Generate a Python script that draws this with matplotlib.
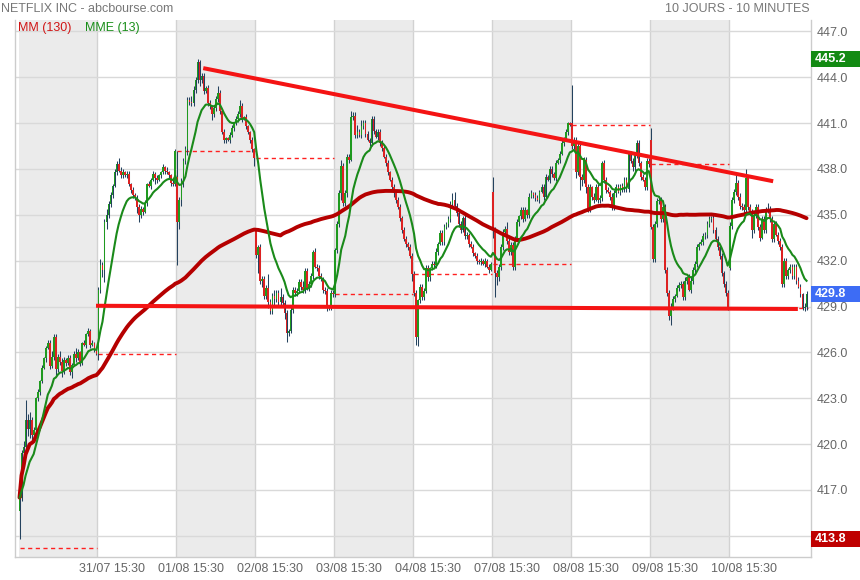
import numpy as np
import pandas as pd
import matplotlib
matplotlib.use("Agg")
import matplotlib.pyplot as plt
from matplotlib.patches import Rectangle
from matplotlib.transforms import blended_transform_factory

plt.rcParams['font.family'] = ['Liberation Sans', 'DejaVu Sans']

# ---------------- data ----------------
title_left = "NETFLIX INC - abcbourse.com"
title_right = "10 JOURS - 10 MINUTES"
legend_mm = "MM (130)"
legend_mme = "MME (13)"
date_labels = ["31/07 15:30", "01/08 15:30", "02/08 15:30", "03/08 15:30", "04/08 15:30",
               "07/08 15:30", "08/08 15:30", "09/08 15:30", "10/08 15:30"]
y_ticks = [414.0, 417.0, 420.0, 423.0, 426.0, 429.0, 432.0, 435.0, 438.0, 441.0, 444.0, 447.0]

CANDLES_PER_DAY = 39

# closes of each 10-minute candle, one list per trading day
c0 = [416.5, 419.4, 419.8, 421.6, 421.0, 421.6, 420.6, 420.9, 423.0, 423.4, 424.1, 425.0, 425.6, 426.3, 426.6, 425.1, 425.7, 427.0, 424.9, 425.7,
      425.4, 424.8, 425.5, 425.3, 425.6, 424.7, 425.2, 425.9, 425.6, 426.0, 425.3, 426.6, 426.5, 427.2, 427.4, 426.5, 426.6, 426.2, 425.9]
c1 = [430.1, 431.7, 431.4, 434.5, 435.0, 435.7, 436.3, 436.9, 437.8, 438.3, 437.9, 437.6, 437.8, 437.6, 437.7, 437.0, 436.6, 436.3, 436.1, 435.5,
      435.0, 435.4, 435.2, 435.8, 437.0, 436.9, 437.3, 437.7, 437.4, 437.3, 437.6, 437.8, 438.1, 437.9, 437.8, 437.6, 437.1, 437.0, 439.2]
c2 = [434.5, 436.0, 437.2, 438.5, 439.3, 442.5, 442.4, 442.3, 443.2, 443.8, 445.0, 443.8, 444.1, 443.1, 443.3, 442.3, 442.1, 441.6, 442.0, 442.6,
      443.0, 441.8, 440.4, 439.9, 440.0, 439.9, 440.2, 440.7, 441.0, 441.3, 441.6, 442.1, 441.3, 441.4, 440.8, 440.4, 439.9, 439.3, 438.7]
c3 = [432.4, 432.9, 430.7, 430.8, 429.7, 430.2, 429.3, 428.7, 429.7, 429.5, 429.9, 429.3, 429.6, 429.2, 428.6, 427.3, 427.4, 428.8, 430.1, 429.9,
      430.0, 430.6, 430.3, 430.1, 431.3, 430.2, 430.5, 431.0, 432.6, 431.6, 431.5, 431.0, 430.8, 430.1, 430.0, 428.9, 429.0, 429.9, 429.8]
c4 = [432.7, 434.4, 436.4, 438.2, 435.8, 436.4, 438.8, 438.6, 441.4, 441.5, 440.2, 440.4, 440.2, 440.8, 441.0, 440.3, 439.9, 439.7, 441.3, 440.5,
      440.1, 440.4, 439.7, 439.4, 438.8, 438.4, 437.8, 437.3, 436.8, 436.4, 436.0, 435.5, 434.8, 434.0, 433.4, 433.1, 432.9, 432.3, 431.1]
c5 = [429.9, 427.0, 429.4, 430.3, 429.6, 430.0, 431.5, 430.9, 431.5, 431.8, 431.7, 432.6, 433.1, 433.8, 433.2, 434.2, 434.4, 434.7, 435.7, 436.0,
      435.6, 435.1, 434.4, 434.0, 434.8, 433.6, 433.7, 433.1, 432.9, 432.5, 432.3, 432.0, 431.9, 432.0, 431.8, 432.0, 431.6, 431.4, 431.8]
c6 = [434.0, 431.2, 430.9, 431.6, 432.9, 433.9, 434.1, 433.3, 432.6, 433.0, 431.6, 433.4, 434.5, 434.9, 435.3, 434.7, 435.3, 435.0, 436.2, 436.4,
      436.3, 436.1, 436.0, 436.5, 436.8, 436.2, 437.5, 437.3, 438.0, 437.7, 437.4, 438.4, 438.6, 439.0, 439.7, 440.0, 440.4, 441.0, 440.9]
c7 = [439.5, 439.9, 437.8, 439.5, 437.5, 437.3, 438.6, 436.8, 435.4, 436.8, 436.2, 436.0, 436.8, 436.0, 436.1, 438.4, 437.3, 436.6, 436.5, 436.2,
      435.5, 436.4, 436.8, 436.5, 436.9, 436.7, 437.3, 436.7, 439.0, 438.5, 438.1, 438.9, 439.7, 438.4, 437.5, 437.3, 436.8, 438.5, 438.3]
c8 = [434.2, 432.1, 434.4, 435.9, 436.0, 434.7, 435.5, 431.4, 429.9, 428.4, 429.0, 429.5, 429.7, 430.2, 430.4, 430.5, 429.6, 430.7, 430.9, 430.1,
      430.7, 431.4, 431.8, 432.9, 433.1, 433.2, 433.6, 433.7, 434.4, 434.7, 434.8, 434.0, 433.4, 432.9, 432.3, 431.2, 430.5, 429.9, 428.9]
c9 = [434.3, 436.0, 436.5, 437.1, 436.2, 435.6, 435.5, 435.3, 437.4, 435.5, 435.2, 434.0, 435.0, 435.5, 434.2, 433.5, 434.7, 434.0, 435.3, 435.4,
      434.7, 433.4, 434.4, 433.7, 433.3, 432.9, 430.5, 432.0, 431.0, 431.4, 431.6, 431.0, 431.6, 430.7, 430.3, 429.8, 428.9, 429.0, 429.8]

# opening price of the first candle of each day
day_opens = [415.6, 425.9, 437.5, 434.0, 429.8, 431.1, 436.5, 441.0, 439.9, 431.5]
# close of the day before the first day shown
first_prev_close = 413.2

# wick lengths above / below the candle body
up0 = [0.5, 0.2, 0.4, 1.3, 0.4, 0.5, 0.2, 0.2, 0.1, 0.2, 0.1, 0.2, 0.1, 0.1, 0.2, 0.2, 0.4, 0.2, 0.2, 0.2,
       0.4, 0.2, 0.2, 0.1, 0.2, 0.2, 0.1, 0.2, 0.4, 0.2, 0.1, 0.1, 0.2, 0.1, 0.2, 0.1, 0.2, 0.1, 0.1]
dn0 = [1.8, 0.2, 0.8, 0.4, 0.5, 0.6, 0.4, 0.2, 0.1, 0.2, 0.2, 0.1, 0.1, 0.2, 0.1, 0.2, 0.1, 0.2, 0.4, 0.2,
       0.2, 0.4, 0.2, 0.2, 0.1, 0.2, 0.4, 0.1, 0.2, 0.1, 0.2, 0.1, 0.1, 0.2, 0.1, 0.2, 0.1, 0.2, 0.1]
up1 = [0.2, 0.4, 0.2, 0.2, 0.4, 0.2, 0.2, 0.1, 0.2, 0.2, 0.4, 0.2, 0.2, 0.1, 0.2, 0.2, 0.1, 0.2, 0.1, 0.2,
       0.2, 0.2, 0.1, 0.2, 0.1, 0.2, 0.1, 0.2, 0.1, 0.2, 0.1, 0.1, 0.2, 0.1, 0.2, 0.1, 0.1, 0.2, 0.1]
dn1 = [0.4, 0.2, 0.5, 0.8, 0.4, 0.2, 0.2, 0.2, 0.1, 0.2, 0.1, 0.2, 0.2, 0.1, 0.2, 0.1, 0.2, 0.2, 0.1, 0.4,
       0.5, 0.2, 0.2, 0.1, 0.2, 0.1, 0.2, 0.1, 0.4, 0.2, 0.1, 0.2, 0.1, 0.2, 0.1, 0.2, 0.2, 0.1, 0.1]
up2 = [1.7, 0.2, 0.2, 0.2, 0.2, 0.2, 0.2, 0.4, 0.2, 0.2, 0.2, 0.1, 0.2, 0.2, 0.1, 0.2, 0.2, 0.1, 0.2, 0.2,
       0.4, 0.2, 0.1, 0.2, 0.1, 0.1, 0.2, 0.2, 0.1, 0.2, 0.2, 0.4, 0.2, 0.1, 0.2, 0.1, 0.1, 0.2, 0.1]
dn2 = [2.8, 0.4, 0.4, 0.4, 0.2, 0.4, 0.2, 0.2, 0.2, 0.2, 0.2, 0.4, 0.2, 0.2, 0.1, 0.2, 0.2, 0.4, 0.2, 0.2,
       0.2, 0.2, 0.1, 0.2, 0.2, 0.1, 0.2, 0.1, 0.2, 0.1, 0.2, 0.2, 0.2, 0.1, 0.2, 0.1, 0.2, 0.2, 0.5]
up3 = [0.1, 0.1, 0.2, 0.2, 0.2, 0.2, 0.9, 0.2, 0.2, 0.4, 0.2, 0.2, 0.6, 0.2, 0.2, 0.2, 0.1, 0.2, 0.2, 0.2,
       0.2, 0.2, 0.2, 0.4, 0.2, 0.2, 0.2, 0.2, 0.1, 0.2, 0.2, 0.2, 0.2, 0.1, 0.2, 0.2, 0.1, 0.2, 0.2]
dn3 = [0.2, 1.2, 0.2, 0.4, 0.2, 0.2, 0.4, 0.2, 0.2, 0.4, 0.2, 0.2, 0.2, 0.2, 0.4, 0.6, 0.2, 0.1, 0.2, 0.2,
       0.2, 0.1, 0.2, 0.2, 0.2, 0.1, 0.2, 0.2, 0.2, 0.1, 0.2, 0.2, 0.1, 0.2, 0.2, 0.2, 0.1, 0.2, 0.2]
up4 = [0.1, 0.2, 0.2, 0.4, 0.2, 0.2, 0.2, 0.2, 0.4, 0.2, 0.2, 0.5, 0.2, 0.4, 0.2, 0.2, 0.2, 0.1, 0.2, 0.2,
       0.1, 0.2, 0.2, 0.2, 0.1, 0.2, 0.2, 0.1, 0.2, 0.2, 0.1, 0.2, 0.2, 0.1, 0.2, 0.2, 0.1, 0.2, 0.2]
dn4 = [0.2, 0.2, 0.2, 0.4, 0.2, 0.2, 0.2, 0.2, 0.1, 0.2, 0.2, 0.2, 0.1, 0.2, 0.2, 0.2, 0.1, 0.2, 0.2, 0.2,
       0.1, 0.2, 0.2, 0.2, 0.1, 0.2, 0.2, 0.1, 0.2, 0.2, 0.2, 0.1, 0.2, 0.2, 0.1, 0.2, 0.2, 0.1, 0.4]
up5 = [0.2, 0.2, 0.1, 0.2, 0.2, 0.2, 0.2, 0.2, 0.1, 0.2, 0.2, 0.2, 0.1, 0.2, 0.2, 0.2, 0.1, 0.2, 0.2, 0.4,
       0.5, 0.2, 0.2, 0.2, 0.1, 0.2, 0.2, 0.1, 0.2, 0.2, 0.1, 0.2, 0.1, 0.2, 0.1, 0.2, 0.1, 0.2, 0.1]
dn5 = [0.2, 0.5, 0.6, 0.2, 0.2, 0.2, 0.1, 0.2, 0.2, 0.1, 0.2, 0.2, 0.2, 0.1, 0.2, 0.2, 0.1, 0.2, 0.2, 0.1,
       0.2, 0.2, 0.2, 0.2, 0.1, 0.2, 0.2, 0.2, 0.1, 0.2, 0.1, 0.2, 0.1, 0.2, 0.1, 0.2, 0.1, 0.2, 0.1]
up6 = [1.0, 0.2, 0.2, 0.2, 0.2, 0.2, 0.2, 0.4, 0.2, 0.2, 0.2, 0.2, 0.2, 0.1, 0.2, 0.2, 0.2, 0.1, 0.2, 0.2,
       0.1, 0.2, 0.2, 0.1, 0.2, 0.2, 0.2, 0.1, 0.2, 0.2, 0.1, 0.2, 0.1, 0.2, 0.2, 0.1, 0.2, 0.1, 0.1]
dn6 = [0.5, 1.6, 0.5, 0.2, 0.2, 0.2, 0.2, 0.2, 0.2, 0.2, 0.2, 0.2, 0.1, 0.2, 0.2, 0.2, 0.1, 0.2, 0.2, 0.1,
       0.2, 0.2, 0.1, 0.2, 0.1, 0.2, 0.2, 0.1, 0.2, 0.2, 0.1, 0.2, 0.1, 0.2, 0.1, 0.2, 0.1, 0.2, 0.1]
up7 = [2.5, 0.2, 0.2, 0.2, 0.2, 0.2, 0.2, 0.2, 0.2, 0.2, 0.1, 0.2, 0.2, 0.2, 0.2, 0.1, 0.2, 0.2, 0.2, 0.1,
       0.2, 0.2, 0.2, 0.2, 0.1, 0.2, 0.2, 0.2, 0.1, 0.2, 0.2, 0.2, 0.2, 0.2, 0.1, 0.2, 0.2, 0.2, 0.2]
dn7 = [0.2, 0.2, 0.4, 0.2, 0.9, 0.4, 0.2, 0.4, 0.2, 0.2, 0.2, 0.2, 0.1, 0.2, 0.2, 0.2, 0.2, 0.2, 0.1, 0.2,
       0.2, 0.2, 0.2, 0.1, 0.2, 0.2, 0.2, 0.2, 0.2, 0.1, 0.2, 0.2, 0.2, 0.2, 0.2, 0.1, 0.2, 0.2, 0.2]
up8 = [0.8, 0.2, 0.2, 0.2, 0.2, 0.2, 0.2, 0.2, 0.2, 0.2, 0.2, 0.2, 0.1, 0.2, 0.2, 0.2, 0.2, 0.2, 0.1, 0.2,
       0.2, 0.2, 0.2, 0.2, 0.1, 0.2, 0.2, 0.2, 0.2, 0.2, 0.1, 0.2, 0.2, 0.2, 0.2, 0.2, 0.1, 0.2, 0.2]
dn8 = [0.1, 0.2, 0.2, 0.2, 0.2, 0.2, 0.2, 0.2, 0.2, 0.3, 0.6, 0.2, 0.2, 0.1, 0.2, 0.2, 0.2, 0.2, 0.2, 0.1,
       0.2, 0.2, 0.2, 0.2, 0.2, 0.1, 0.2, 0.2, 0.2, 0.2, 0.2, 0.2, 0.1, 0.2, 0.2, 0.2, 0.2, 0.2, 0.1]
up9 = [0.2, 0.2, 0.2, 0.5, 0.2, 0.2, 0.2, 0.2, 0.6, 0.2, 0.2, 0.2, 0.1, 0.2, 0.2, 0.2, 0.2, 0.2, 0.2, 0.4,
       0.2, 0.2, 0.1, 0.2, 0.2, 0.2, 0.2, 0.2, 0.2, 0.1, 0.2, 0.2, 0.2, 0.2, 0.2, 0.2, 0.1, 0.2, 0.2]
dn9 = [0.1, 0.2, 0.2, 0.2, 0.2, 0.2, 0.2, 0.2, 0.2, 0.2, 0.2, 0.5, 0.2, 0.2, 0.2, 0.2, 0.1, 0.2, 0.2, 0.2,
       0.2, 0.2, 0.2, 0.1, 0.2, 0.2, 0.2, 0.2, 0.2, 0.2, 0.2, 0.2, 0.2, 0.2, 0.1, 0.2, 0.1, 0.2, 0.2]

# hand-drawn trend lines: (candle index, price) end points
resistance_x = [91.3, 373.0]
resistance_y = [444.6, 437.2]
support_x = [38.3, 385.2]
support_y = [429.05, 428.84]

# ---------------- build series ----------------
closes = np.array(c0 + c1 + c2 + c3 + c4 + c5 + c6 + c7 + c8 + c9)
wick_up = np.array(up0 + up1 + up2 + up3 + up4 + up5 + up6 + up7 + up8 + up9)
wick_dn = np.array(dn0 + dn1 + dn2 + dn3 + dn4 + dn5 + dn6 + dn7 + dn8 + dn9)
n = len(closes)
n_days = len(day_opens)
opens = np.empty(n)
opens[1:] = closes[:-1]
for d, o in enumerate(day_opens):
    opens[d * CANDLES_PER_DAY] = o
highs = np.maximum(opens, closes) + wick_up
lows = np.minimum(opens, closes) - wick_dn
xs = np.arange(n) + 0.5

s = pd.Series(closes)
mm130 = s.rolling(130, min_periods=1).mean().values
mme13 = s.ewm(span=13, adjust=False).mean().values

prev_closes = [first_prev_close] + [closes[(d + 1) * CANDLES_PER_DAY - 1] for d in range(n_days - 1)]

# ---------------- colours ----------------
GREEN = '#1f9a1f'
RED = '#dd2222'
WICK = '#24425e'
MM_COL = '#b50000'
MME_COL = '#1a8a1a'
TREND = '#f41414'
BAND = '#ebebeb'
GRID = '#d9d9d9'
TXT = '#666666'

# ---------------- figure ----------------
W, H = 860, 580
fig = plt.figure(figsize=(W / 100, H / 100), dpi=100)
ax = fig.add_axes([15 / W, 23 / H, 796 / W, 537 / H])
ax.set_xlim(-1.73, 391.7)
ax.set_ylim(412.61, 447.75)

for d in range(0, n_days, 2):
    ax.axvspan(d * CANDLES_PER_DAY, (d + 1) * CANDLES_PER_DAY, color=BAND, lw=0, zorder=0)
for d in range(1, n_days):
    ax.axvline(d * CANDLES_PER_DAY, color='#d2d2d2', lw=1, zorder=1)
for v in y_ticks:
    ax.axhline(v, color=GRID, lw=1, zorder=1)

# previous-close dashed lines
for d in range(n_days):
    ax.plot([d * CANDLES_PER_DAY + 0.5, (d + 1) * CANDLES_PER_DAY], [prev_closes[d]] * 2,
            color='#ff2020', lw=1.0, dashes=(3, 2.5), zorder=2)

# candles
ax.vlines(xs, lows, highs, color=WICK, lw=0.75, zorder=3)
up = closes >= opens
body_lo = np.minimum(opens, closes)
body_h = np.maximum(np.abs(closes - opens), 0.08)
ax.bar(xs[up], body_h[up], bottom=body_lo[up], width=0.86, color=GREEN, lw=0, zorder=4)
ax.bar(xs[~up], body_h[~up], bottom=body_lo[~up], width=0.86, color=RED, lw=0, zorder=4)

# moving averages
ax.plot(xs, mm130, color=MM_COL, lw=2.8, zorder=5, solid_capstyle='round')
ax.plot(xs, mme13, color=MME_COL, lw=1.5, zorder=6)

# trend lines
ax.plot(resistance_x, resistance_y, color=TREND, lw=2.9, zorder=7, solid_capstyle='butt')
ax.plot(support_x, support_y, color=TREND, lw=2.9, zorder=7, solid_capstyle='butt')

# axes styling
ax.set_xticks([])
ax.yaxis.tick_right()
ax.set_yticks(y_ticks)
ax.set_yticklabels([f'{v:.1f}' for v in y_ticks])
ax.tick_params(axis='y', length=0, pad=4, labelsize=9, labelcolor=TXT)
for side in ['left', 'bottom', 'right']:
    ax.spines[side].set_color('#cccccc')
    ax.spines[side].set_linewidth(1)
ax.spines['top'].set_visible(False)

# date labels
tr_x = blended_transform_factory(ax.transData, ax.transAxes)
for k, lab in enumerate(date_labels):
    ax.text((k + 1) * CANDLES_PER_DAY + 7.4, -12 / 537, lab, transform=tr_x, ha='center', va='center',
            fontsize=9, color=TXT, clip_on=False)

# header
fig.text(1 / W, 1 - 9 / H, title_left, ha='left', va='center', fontsize=9, color='#777777')
fig.text(810 / W, 1 - 9 / H, title_right, ha='right', va='center', fontsize=9, color='#777777')
fig.text(18 / W, 1 - 28 / H, legend_mm, ha='left', va='center', fontsize=9, color='#d01515')
fig.text(85 / W, 1 - 28 / H, legend_mme, ha='left', va='center', fontsize=9, color='#1a8f1a')

# price boxes on the right axis
tr_y = blended_transform_factory(ax.transAxes, ax.transData)
box_h = 16 / 15.283


def price_box(val, col):
    ax.add_patch(Rectangle((1.0, val - box_h / 2), 49 / 796, box_h, transform=tr_y,
                           fc=col, ec='none', clip_on=False, zorder=10))
    ax.text(1.0 + 4 / 796, val, f'{val:.1f}', transform=tr_y, ha='left', va='center',
            fontsize=9, fontweight='bold', color='white', clip_on=False, zorder=11)


price_box(float(np.round(highs.max(), 1)), '#138a13')
price_box(float(np.round(closes[-1], 1)), '#3d6cf5')
price_box(float(np.round(lows.min(), 1)), '#bf0000')

fig.savefig('out.png', dpi=100, facecolor='white')
